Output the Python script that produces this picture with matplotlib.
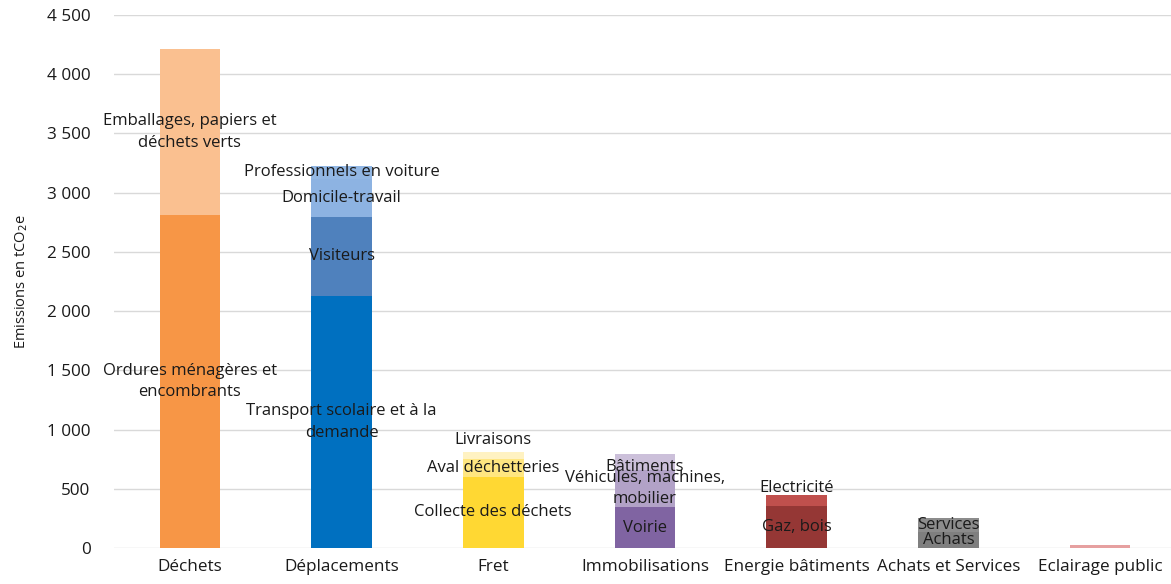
import matplotlib.pyplot as plt
import numpy as np

plt.rcParams['font.family'] = ['Open Sans', 'DejaVu Sans']

categories = ['Déchets', 'Déplacements', 'Fret', 'Immobilisations',
              'Energie bâtiments', 'Achats et Services', 'Eclairage public']

# postes d'émission empilés, du bas vers le haut (tCO2e)
dechets = [2810, 1404]
dechets_noms = ['Ordures ménagères et\nencombrants', 'Emballages, papiers et\ndéchets verts']
deplacements = [2128, 667, 321, 110]
deplacements_noms = ['Transport scolaire et à la\ndemande', 'Visiteurs', 'Domicile-travail',
                     'Professionnels en voiture']
fret = [600, 152, 59]
fret_noms = ['Collecte des déchets', 'Aval déchetteries', 'Livraisons']
immobilisations = [346, 312, 135]
immobilisations_noms = ['Voirie', 'Véhicules, machines,\nmobilier', 'Bâtiments']
energie = [355, 92]
energie_noms = ['Gaz, bois', 'Electricité']
achats = [135, 118]
achats_noms = ['Achats', 'Services']
eclairage = [25]
eclairage_noms = ['']

valeurs = [dechets, deplacements, fret, immobilisations, energie, achats, eclairage]
noms = [dechets_noms, deplacements_noms, fret_noms, immobilisations_noms,
        energie_noms, achats_noms, eclairage_noms]
couleurs = [['#F79646', '#FAC090'],
            ['#0070C0', '#4F81BD', '#8DB3E2', '#92B7E4'],
            ['#FFD833', '#FFE680', '#FFF2C2'],
            ['#8064A2', '#B2A2C7', '#CCC0DA'],
            ['#953735', '#C0504D'],
            ['#7F7F7F', '#8C8C8C'],
            ['#E6A0A0']]
# décalage vertical de certaines étiquettes (tCO2e)
decalage = {'Livraisons': 130, 'Bâtiments': -40, 'Electricité': 105}

fig = plt.figure(figsize=(11.71, 5.84), dpi=100)
ax = fig.add_axes([114 / 1171, 36 / 584, 1062 / 1171, 533 / 584])

x = np.arange(len(categories))
largeur = 0.40
for i in range(len(categories)):
    bas = 0
    for v, nom, c in zip(valeurs[i], noms[i], couleurs[i]):
        ax.bar(x[i], v, largeur, bottom=bas, color=c, zorder=2)
        if nom:
            ax.text(x[i], bas + v / 2 + decalage.get(nom, 0), nom, ha='center', va='center',
                    fontsize=12, color='#1a1a1a', linespacing=1.45, zorder=3)
        bas += v

ax.set_xlim(-0.5, 6.5)
ax.set_ylim(0, 4500)
ax.set_yticks(np.arange(0, 4501, 500))
ax.set_yticklabels([f'{v:,}'.replace(',', ' ') for v in range(0, 4501, 500)])
ax.set_xticks(x, categories)
ax.tick_params(length=0, labelsize=12.3, colors='#1a1a1a')
ax.tick_params(axis='x', pad=8)
ax.tick_params(axis='y', pad=17)
ax.yaxis.grid(True, color='#d9d9d9', linewidth=1, zorder=0)
ax.set_axisbelow(True)
for s in ax.spines.values():
    s.set_visible(False)
ax.set_ylabel('Emissions en tCO$_2$e', fontsize=10.5, color='#1a1a1a', labelpad=12)

fig.savefig('out.png', dpi=100)
